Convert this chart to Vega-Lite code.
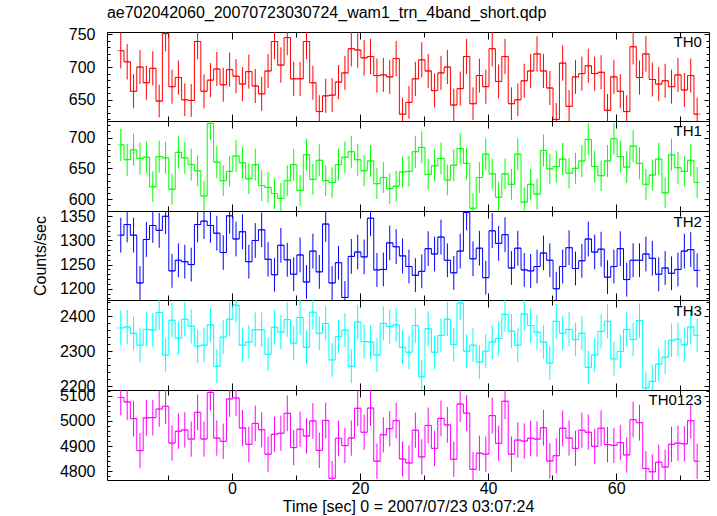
{
"$schema": "https://vega.github.io/schema/vega-lite/v6.json",
"padding": {"left": 31, "top": 4, "right": 5, "bottom": 5},
"title": {"text": "ae702042060_20070723030724_wam1_trn_4band_short.qdp", "anchor": "start", "dx": 75, "fontSize": 16, "fontWeight": "normal", "font": "Liberation Sans", "color": "#000", "offset": 5},
"data": {"values": [
{"t":-17.35,"TH0":725,"e0":27,"TH1":688,"e1":26,"TH2":1311,"e2":36,"TH3":2366,"e3":49,"TH0123":5093,"e4":71},
{"t":-16.35,"TH0":708,"e0":27,"TH1":664,"e1":26,"TH2":1333,"e2":37,"TH3":2369,"e3":49,"TH0123":5075,"e4":71},
{"t":-15.35,"TH0":663,"e0":26,"TH1":680,"e1":26,"TH2":1311,"e2":36,"TH3":2351,"e3":48,"TH0123":5009,"e4":71},
{"t":-14.35,"TH0":700,"e0":26,"TH1":666,"e1":26,"TH2":1212,"e2":35,"TH3":2317,"e3":48,"TH0123":4882,"e4":70},
{"t":-13.35,"TH0":676,"e0":26,"TH1":668,"e1":26,"TH2":1302,"e2":36,"TH3":2362,"e3":49,"TH0123":5012,"e4":71},
{"t":-12.35,"TH0":698,"e0":26,"TH1":620,"e1":25,"TH2":1331,"e2":36,"TH3":2360,"e3":49,"TH0123":5013,"e4":71},
{"t":-11.35,"TH0":648,"e0":25,"TH1":669,"e1":26,"TH2":1321,"e2":36,"TH3":2410,"e3":49,"TH0123":5047,"e4":71},
{"t":-10.35,"TH0":751,"e0":27,"TH1":667,"e1":26,"TH2":1350,"e2":37,"TH3":2289,"e3":48,"TH0123":5058,"e4":71},
{"t":-9.35,"TH0":670,"e0":26,"TH1":616,"e1":25,"TH2":1237,"e2":35,"TH3":2388,"e3":49,"TH0123":4912,"e4":70},
{"t":-8.35,"TH0":684,"e0":26,"TH1":676,"e1":26,"TH2":1259,"e2":35,"TH3":2337,"e3":48,"TH0123":4959,"e4":70},
{"t":-7.35,"TH0":650,"e0":25,"TH1":667,"e1":26,"TH2":1256,"e2":35,"TH3":2391,"e3":49,"TH0123":4964,"e4":70},
{"t":-6.35,"TH0":649,"e0":25,"TH1":656,"e1":26,"TH2":1250,"e2":35,"TH3":2371,"e3":49,"TH0123":4928,"e4":70},
{"t":-5.35,"TH0":739,"e0":27,"TH1":646,"e1":25,"TH2":1333,"e2":37,"TH3":2314,"e3":48,"TH0123":5034,"e4":71},
{"t":-4.35,"TH0":663,"e0":26,"TH1":605,"e1":25,"TH2":1340,"e2":37,"TH3":2317,"e3":48,"TH0123":4928,"e4":70},
{"t":-3.35,"TH0":680,"e0":26,"TH1":723,"e1":27,"TH2":1331,"e2":36,"TH3":2375,"e3":49,"TH0123":5113,"e4":72},
{"t":-2.35,"TH0":697,"e0":26,"TH1":660,"e1":26,"TH2":1315,"e2":36,"TH3":2257,"e3":48,"TH0123":4932,"e4":70},
{"t":-1.35,"TH0":673,"e0":26,"TH1":630,"e1":25,"TH2":1275,"e2":36,"TH3":2340,"e3":48,"TH0123":4919,"e4":70},
{"t":-0.35,"TH0":696,"e0":26,"TH1":645,"e1":25,"TH2":1351,"e2":37,"TH3":2391,"e3":49,"TH0123":5087,"e4":71},
{"t":0.65,"TH0":686,"e0":26,"TH1":670,"e1":26,"TH2":1303,"e2":36,"TH3":2431,"e3":49,"TH0123":5091,"e4":71},
{"t":1.65,"TH0":674,"e0":26,"TH1":659,"e1":26,"TH2":1318,"e2":36,"TH3":2317,"e3":48,"TH0123":4972,"e4":71},
{"t":2.65,"TH0":693,"e0":26,"TH1":633,"e1":25,"TH2":1256,"e2":35,"TH3":2326,"e3":48,"TH0123":4907,"e4":70},
{"t":3.65,"TH0":671,"e0":26,"TH1":656,"e1":26,"TH2":1300,"e2":36,"TH3":2361,"e3":49,"TH0123":4990,"e4":71},
{"t":4.65,"TH0":659,"e0":26,"TH1":622,"e1":25,"TH2":1322,"e2":36,"TH3":2361,"e3":49,"TH0123":4965,"e4":70},
{"t":5.65,"TH0":694,"e0":26,"TH1":619,"e1":25,"TH2":1261,"e2":36,"TH3":2291,"e3":48,"TH0123":4868,"e4":70},
{"t":6.65,"TH0":739,"e0":27,"TH1":609,"e1":25,"TH2":1229,"e2":35,"TH3":2368,"e3":49,"TH0123":4947,"e4":70},
{"t":7.65,"TH0":703,"e0":27,"TH1":601,"e1":25,"TH2":1290,"e2":36,"TH3":2354,"e3":49,"TH0123":4951,"e4":70},
{"t":8.65,"TH0":745,"e0":27,"TH1":630,"e1":25,"TH2":1260,"e2":35,"TH3":2390,"e3":49,"TH0123":5030,"e4":71},
{"t":9.65,"TH0":682,"e0":26,"TH1":656,"e1":26,"TH2":1230,"e2":35,"TH3":2323,"e3":48,"TH0123":4894,"e4":70},
{"t":10.65,"TH0":682,"e0":26,"TH1":614,"e1":25,"TH2":1270,"e2":36,"TH3":2396,"e3":49,"TH0123":4967,"e4":70},
{"t":11.65,"TH0":739,"e0":27,"TH1":672,"e1":26,"TH2":1214,"e2":35,"TH3":2311,"e3":48,"TH0123":4940,"e4":70},
{"t":12.65,"TH0":676,"e0":26,"TH1":632,"e1":25,"TH2":1278,"e2":36,"TH3":2411,"e3":49,"TH0123":5000,"e4":71},
{"t":13.65,"TH0":632,"e0":25,"TH1":663,"e1":26,"TH2":1235,"e2":35,"TH3":2351,"e3":48,"TH0123":4883,"e4":70},
{"t":14.65,"TH0":656,"e0":26,"TH1":630,"e1":25,"TH2":1334,"e2":37,"TH3":2379,"e3":49,"TH0123":5002,"e4":71},
{"t":15.65,"TH0":657,"e0":26,"TH1":627,"e1":25,"TH2":1212,"e2":35,"TH3":2275,"e3":48,"TH0123":4772,"e4":69},
{"t":16.65,"TH0":677,"e0":26,"TH1":656,"e1":26,"TH2":1254,"e2":35,"TH3":2342,"e3":48,"TH0123":4931,"e4":70},
{"t":17.65,"TH0":691,"e0":26,"TH1":668,"e1":26,"TH2":1182,"e2":34,"TH3":2360,"e3":49,"TH0123":4902,"e4":70},
{"t":18.65,"TH0":728,"e0":27,"TH1":677,"e1":26,"TH2":1267,"e2":36,"TH3":2257,"e3":48,"TH0123":4932,"e4":70},
{"t":19.65,"TH0":726,"e0":27,"TH1":664,"e1":26,"TH2":1276,"e2":36,"TH3":2383,"e3":49,"TH0123":5050,"e4":71},
{"t":20.65,"TH0":714,"e0":27,"TH1":646,"e1":25,"TH2":1266,"e2":36,"TH3":2327,"e3":48,"TH0123":4955,"e4":70},
{"t":21.65,"TH0":716,"e0":27,"TH1":662,"e1":26,"TH2":1346,"e2":37,"TH3":2326,"e3":48,"TH0123":5051,"e4":71},
{"t":22.65,"TH0":687,"e0":26,"TH1":625,"e1":25,"TH2":1239,"e2":35,"TH3":2289,"e3":48,"TH0123":4840,"e4":70},
{"t":23.65,"TH0":688,"e0":26,"TH1":635,"e1":25,"TH2":1240,"e2":35,"TH3":2379,"e3":49,"TH0123":4945,"e4":70},
{"t":24.65,"TH0":685,"e0":26,"TH1":617,"e1":25,"TH2":1295,"e2":36,"TH3":2370,"e3":49,"TH0123":4969,"e4":70},
{"t":25.65,"TH0":713,"e0":27,"TH1":621,"e1":25,"TH2":1287,"e2":36,"TH3":2375,"e3":49,"TH0123":5001,"e4":71},
{"t":26.65,"TH0":628,"e0":25,"TH1":644,"e1":25,"TH2":1268,"e2":36,"TH3":2311,"e3":48,"TH0123":4849,"e4":70},
{"t":27.65,"TH0":646,"e0":25,"TH1":645,"e1":25,"TH2":1246,"e2":35,"TH3":2297,"e3":48,"TH0123":4833,"e4":70},
{"t":28.65,"TH0":682,"e0":26,"TH1":677,"e1":26,"TH2":1228,"e2":35,"TH3":2373,"e3":49,"TH0123":4963,"e4":70},
{"t":29.65,"TH0":711,"e0":27,"TH1":684,"e1":26,"TH2":1236,"e2":35,"TH3":2227,"e3":47,"TH0123":4857,"e4":70},
{"t":30.65,"TH0":694,"e0":26,"TH1":640,"e1":25,"TH2":1283,"e2":36,"TH3":2364,"e3":49,"TH0123":4982,"e4":71},
{"t":31.65,"TH0":664,"e0":26,"TH1":654,"e1":26,"TH2":1272,"e2":36,"TH3":2297,"e3":48,"TH0123":4891,"e4":70},
{"t":32.65,"TH0":691,"e0":26,"TH1":666,"e1":26,"TH2":1307,"e2":36,"TH3":2345,"e3":48,"TH0123":5010,"e4":71},
{"t":33.65,"TH0":700,"e0":26,"TH1":631,"e1":25,"TH2":1259,"e2":35,"TH3":2391,"e3":49,"TH0123":4984,"e4":71},
{"t":34.65,"TH0":642,"e0":25,"TH1":655,"e1":26,"TH2":1233,"e2":35,"TH3":2319,"e3":48,"TH0123":4848,"e4":70},
{"t":35.65,"TH0":667,"e0":26,"TH1":682,"e1":26,"TH2":1278,"e2":36,"TH3":2437,"e3":49,"TH0123":5067,"e4":71},
{"t":36.65,"TH0":716,"e0":27,"TH1":658,"e1":26,"TH2":1358,"e2":37,"TH3":2300,"e3":48,"TH0123":5031,"e4":71},
{"t":37.65,"TH0":644,"e0":25,"TH1":585,"e1":24,"TH2":1262,"e2":36,"TH3":2317,"e3":48,"TH0123":4808,"e4":69},
{"t":38.65,"TH0":687,"e0":26,"TH1":635,"e1":25,"TH2":1284,"e2":36,"TH3":2269,"e3":48,"TH0123":4872,"e4":70},
{"t":39.65,"TH0":670,"e0":26,"TH1":673,"e1":26,"TH2":1223,"e2":35,"TH3":2300,"e3":48,"TH0123":4868,"e4":70},
{"t":40.65,"TH0":728,"e0":27,"TH1":641,"e1":25,"TH2":1320,"e2":36,"TH3":2326,"e3":48,"TH0123":5021,"e4":71},
{"t":41.65,"TH0":678,"e0":26,"TH1":603,"e1":25,"TH2":1294,"e2":36,"TH3":2336,"e3":48,"TH0123":4911,"e4":70},
{"t":42.65,"TH0":716,"e0":27,"TH1":641,"e1":25,"TH2":1312,"e2":36,"TH3":2405,"e3":49,"TH0123":5078,"e4":71},
{"t":43.65,"TH0":644,"e0":25,"TH1":624,"e1":25,"TH2":1243,"e2":35,"TH3":2357,"e3":49,"TH0123":4868,"e4":70},
{"t":44.65,"TH0":650,"e0":25,"TH1":673,"e1":26,"TH2":1284,"e2":36,"TH3":2317,"e3":48,"TH0123":4924,"e4":70},
{"t":45.65,"TH0":679,"e0":26,"TH1":595,"e1":24,"TH2":1239,"e2":35,"TH3":2406,"e3":49,"TH0123":4920,"e4":70},
{"t":46.65,"TH0":694,"e0":26,"TH1":624,"e1":25,"TH2":1237,"e2":35,"TH3":2373,"e3":49,"TH0123":4931,"e4":70},
{"t":47.65,"TH0":720,"e0":27,"TH1":608,"e1":25,"TH2":1246,"e2":35,"TH3":2354,"e3":49,"TH0123":4928,"e4":70},
{"t":48.65,"TH0":694,"e0":26,"TH1":679,"e1":26,"TH2":1274,"e2":36,"TH3":2326,"e3":48,"TH0123":4973,"e4":71},
{"t":49.65,"TH0":668,"e0":26,"TH1":649,"e1":25,"TH2":1259,"e2":35,"TH3":2266,"e3":48,"TH0123":4841,"e4":70},
{"t":50.65,"TH0":620,"e0":25,"TH1":653,"e1":26,"TH2":1200,"e2":35,"TH3":2385,"e3":49,"TH0123":4862,"e4":70},
{"t":51.65,"TH0":706,"e0":27,"TH1":665,"e1":26,"TH2":1246,"e2":35,"TH3":2351,"e3":48,"TH0123":4971,"e4":71},
{"t":52.65,"TH0":640,"e0":25,"TH1":642,"e1":25,"TH2":1285,"e2":36,"TH3":2362,"e3":49,"TH0123":4932,"e4":70},
{"t":53.65,"TH0":685,"e0":26,"TH1":650,"e1":25,"TH2":1242,"e2":35,"TH3":2333,"e3":48,"TH0123":4891,"e4":70},
{"t":54.65,"TH0":690,"e0":26,"TH1":662,"e1":26,"TH2":1258,"e2":35,"TH3":2351,"e3":48,"TH0123":4963,"e4":70},
{"t":55.65,"TH0":702,"e0":26,"TH1":697,"e1":26,"TH2":1303,"e2":36,"TH3":2254,"e3":47,"TH0123":4955,"e4":70},
{"t":56.65,"TH0":690,"e0":26,"TH1":653,"e1":26,"TH2":1276,"e2":36,"TH3":2289,"e3":48,"TH0123":4899,"e4":70},
{"t":57.65,"TH0":692,"e0":26,"TH1":638,"e1":25,"TH2":1282,"e2":36,"TH3":2356,"e3":49,"TH0123":4971,"e4":71},
{"t":58.65,"TH0":634,"e0":25,"TH1":662,"e1":26,"TH2":1224,"e2":35,"TH3":2385,"e3":49,"TH0123":4906,"e4":70},
{"t":59.65,"TH0":685,"e0":26,"TH1":698,"e1":26,"TH2":1246,"e2":35,"TH3":2278,"e3":48,"TH0123":4903,"e4":70},
{"t":60.65,"TH0":663,"e0":26,"TH1":669,"e1":26,"TH2":1283,"e2":36,"TH3":2299,"e3":48,"TH0123":4914,"e4":70},
{"t":61.65,"TH0":632,"e0":25,"TH1":652,"e1":26,"TH2":1219,"e2":35,"TH3":2362,"e3":49,"TH0123":4865,"e4":70},
{"t":62.65,"TH0":731,"e0":27,"TH1":686,"e1":26,"TH2":1259,"e2":35,"TH3":2333,"e3":48,"TH0123":5005,"e4":71},
{"t":63.65,"TH0":684,"e0":26,"TH1":658,"e1":26,"TH2":1259,"e2":35,"TH3":2387,"e3":49,"TH0123":4993,"e4":71},
{"t":64.65,"TH0":720,"e0":27,"TH1":624,"e1":25,"TH2":1272,"e2":36,"TH3":2195,"e3":47,"TH0123":4811,"e4":69},
{"t":65.65,"TH0":681,"e0":26,"TH1":639,"e1":25,"TH2":1263,"e2":36,"TH3":2214,"e3":47,"TH0123":4798,"e4":69},
{"t":66.65,"TH0":674,"e0":26,"TH1":665,"e1":26,"TH2":1230,"e2":35,"TH3":2263,"e3":48,"TH0123":4836,"e4":70},
{"t":67.65,"TH0":679,"e0":26,"TH1":610,"e1":25,"TH2":1243,"e2":35,"TH3":2283,"e3":48,"TH0123":4817,"e4":69},
{"t":68.65,"TH0":670,"e0":26,"TH1":672,"e1":26,"TH2":1232,"e2":35,"TH3":2331,"e3":48,"TH0123":4907,"e4":70},
{"t":69.65,"TH0":688,"e0":26,"TH1":651,"e1":26,"TH2":1240,"e2":35,"TH3":2334,"e3":48,"TH0123":4912,"e4":70},
{"t":70.65,"TH0":665,"e0":26,"TH1":645,"e1":25,"TH2":1278,"e2":36,"TH3":2318,"e3":48,"TH0123":4909,"e4":70},
{"t":71.65,"TH0":687,"e0":26,"TH1":663,"e1":26,"TH2":1281,"e2":36,"TH3":2369,"e3":49,"TH0123":5001,"e4":71},
{"t":72.65,"TH0":628,"e0":25,"TH1":627,"e1":25,"TH2":1238,"e2":35,"TH3":2345,"e3":48,"TH0123":4840,"e4":70}
]},
"spacing": 0,
"bounds": "flush",
"vconcat": [
{
 "width": 602, "height": 89,
 "layer": [
  {"mark": {"type": "errorbar", "color": "#ff0000", "thickness": 1},
   "encoding": {
    "x": {"field": "t", "type": "quantitative", "scale": {"domain": [-19.5, 74.5], "nice": false, "zero": false}, "axis": {"orient": "bottom", "values": [0, 20, 40, 60], "tickSize": -7, "labels": false, "title": null}},
    "y": {"field": "TH0", "type": "quantitative", "scale": {"domain": [617.6, 753.5], "nice": false, "zero": false, "clamp": true}, "axis": {"orient": "left", "values": [650, 700, 750], "tickSize": -5, "labelPadding": 17, "format": "d", "title": null}},
    "yError": {"field": "e0"}
   }},
  {"mark": {"type": "line", "interpolate": "step", "color": "#ff0000", "strokeWidth": 1},
   "encoding": {
    "x": {"field": "t", "type": "quantitative", "axis": {"orient": "top", "values": [0, 20, 40, 60], "tickSize": -7, "labels": false, "title": null}},
    "y": {"field": "TH0", "type": "quantitative", "axis": {"orient": "right", "values": [650, 700, 750], "tickSize": -5, "labels": false, "title": null}}
   }},
  {"mark": {"type": "tick", "orient": "horizontal", "size": 6.4, "thickness": 1, "color": "#ff0000"},
   "encoding": {
    "x": {"field": "t", "type": "quantitative", "axis": {"orient": "bottom", "values": [-10, 10, 30, 50, 70], "tickSize": -5, "labels": false, "title": null}},
    "y": {"field": "TH0", "type": "quantitative", "axis": {"orient": "left", "values": [620, 630, 640, 660, 670, 680, 690, 710, 720, 730, 740], "tickSize": -3, "labels": false, "title": null}}
   }},
  {"data": {"values": [{"label": "TH0"}]},
   "mark": {"type": "text", "align": "right", "baseline": "middle", "fontSize": 15, "font": "Liberation Sans", "color": "#000"},
   "encoding": {
    "x": {"datum": 73.4, "type": "quantitative", "axis": {"orient": "top", "values": [-10, 10, 30, 50, 70], "tickSize": -5, "labels": false, "title": null}},
    "y": {"datum": 737.5, "type": "quantitative", "axis": {"orient": "right", "values": [620, 630, 640, 660, 670, 680, 690, 710, 720, 730, 740], "tickSize": -3, "labels": false, "title": null}},
    "text": {"field": "label"}
   }}
 ],
 "resolve": {"axis": {"x": "independent", "y": "independent"}}
},
{
 "width": 602, "height": 90,
 "layer": [
  {"mark": {"type": "errorbar", "color": "#00ff00", "thickness": 1},
   "encoding": {
    "x": {"field": "t", "type": "quantitative", "scale": {"domain": [-19.5, 74.5], "nice": false, "zero": false}, "axis": {"orient": "bottom", "values": [0, 20, 40, 60], "tickSize": -7, "labels": false, "title": null}},
    "y": {"field": "TH1", "type": "quantitative", "scale": {"domain": [580.6, 726.9], "nice": false, "zero": false, "clamp": true}, "axis": {"orient": "left", "values": [600, 650, 700], "tickSize": -5, "labelPadding": 17, "format": "d", "title": null}},
    "yError": {"field": "e1"}
   }},
  {"mark": {"type": "line", "interpolate": "step", "color": "#00ff00", "strokeWidth": 1},
   "encoding": {
    "x": {"field": "t", "type": "quantitative", "axis": {"orient": "top", "values": [0, 20, 40, 60], "tickSize": -7, "labels": false, "title": null}},
    "y": {"field": "TH1", "type": "quantitative", "axis": {"orient": "right", "values": [600, 650, 700], "tickSize": -5, "labels": false, "title": null}}
   }},
  {"mark": {"type": "tick", "orient": "horizontal", "size": 6.4, "thickness": 1, "color": "#00ff00"},
   "encoding": {
    "x": {"field": "t", "type": "quantitative", "axis": {"orient": "bottom", "values": [-10, 10, 30, 50, 70], "tickSize": -5, "labels": false, "title": null}},
    "y": {"field": "TH1", "type": "quantitative", "axis": {"orient": "left", "values": [590, 610, 620, 630, 640, 660, 670, 680, 690, 710, 720], "tickSize": -3, "labels": false, "title": null}}
   }},
  {"data": {"values": [{"label": "TH1"}]},
   "mark": {"type": "text", "align": "right", "baseline": "middle", "fontSize": 15, "font": "Liberation Sans", "color": "#000"},
   "encoding": {
    "x": {"datum": 73.4, "type": "quantitative", "axis": {"orient": "top", "values": [-10, 10, 30, 50, 70], "tickSize": -5, "labels": false, "title": null}},
    "y": {"datum": 710, "type": "quantitative", "axis": {"orient": "right", "values": [590, 610, 620, 630, 640, 660, 670, 680, 690, 710, 720], "tickSize": -3, "labels": false, "title": null}},
    "text": {"field": "label"}
   }}
 ],
 "resolve": {"axis": {"x": "independent", "y": "independent"}}
},
{
 "width": 602, "height": 89,
 "layer": [
  {"mark": {"type": "errorbar", "color": "#0000ff", "thickness": 1},
   "encoding": {
    "x": {"field": "t", "type": "quantitative", "scale": {"domain": [-19.5, 74.5], "nice": false, "zero": false}, "axis": {"orient": "bottom", "values": [0, 20, 40, 60], "tickSize": -7, "labels": false, "title": null}},
    "y": {"field": "TH2", "type": "quantitative", "scale": {"domain": [1176.7, 1361], "nice": false, "zero": false, "clamp": true}, "axis": {"orient": "left", "values": [1200, 1250, 1300, 1350], "tickSize": -5, "labelPadding": 17, "format": "d", "title": "Counts/sec", "titlePadding": 11}},
    "yError": {"field": "e2"}
   }},
  {"mark": {"type": "line", "interpolate": "step", "color": "#0000ff", "strokeWidth": 1},
   "encoding": {
    "x": {"field": "t", "type": "quantitative", "axis": {"orient": "top", "values": [0, 20, 40, 60], "tickSize": -7, "labels": false, "title": null}},
    "y": {"field": "TH2", "type": "quantitative", "axis": {"orient": "right", "values": [1200, 1250, 1300, 1350], "tickSize": -5, "labels": false, "title": null}}
   }},
  {"mark": {"type": "tick", "orient": "horizontal", "size": 6.4, "thickness": 1, "color": "#0000ff"},
   "encoding": {
    "x": {"field": "t", "type": "quantitative", "axis": {"orient": "bottom", "values": [-10, 10, 30, 50, 70], "tickSize": -5, "labels": false, "title": null}},
    "y": {"field": "TH2", "type": "quantitative", "axis": {"orient": "left", "values": [1180, 1190, 1210, 1220, 1230, 1240, 1260, 1270, 1280, 1290, 1310, 1320, 1330, 1340, 1360], "tickSize": -3, "labels": false, "title": null}}
   }},
  {"data": {"values": [{"label": "TH2"}]},
   "mark": {"type": "text", "align": "right", "baseline": "middle", "fontSize": 15, "font": "Liberation Sans", "color": "#000"},
   "encoding": {
    "x": {"datum": 73.4, "type": "quantitative", "axis": {"orient": "top", "values": [-10, 10, 30, 50, 70], "tickSize": -5, "labels": false, "title": null}},
    "y": {"datum": 1338, "type": "quantitative", "axis": {"orient": "right", "values": [1180, 1190, 1210, 1220, 1230, 1240, 1260, 1270, 1280, 1290, 1310, 1320, 1330, 1340, 1360], "tickSize": -3, "labels": false, "title": null}},
    "text": {"field": "label"}
   }}
 ],
 "resolve": {"axis": {"x": "independent", "y": "independent"}}
},
{
 "width": 602, "height": 90,
 "layer": [
  {"mark": {"type": "errorbar", "color": "#00ffff", "thickness": 1},
   "encoding": {
    "x": {"field": "t", "type": "quantitative", "scale": {"domain": [-19.5, 74.5], "nice": false, "zero": false}, "axis": {"orient": "bottom", "values": [0, 20, 40, 60], "tickSize": -7, "labels": false, "title": null}},
    "y": {"field": "TH3", "type": "quantitative", "scale": {"domain": [2189.4, 2445.7], "nice": false, "zero": false, "clamp": true}, "axis": {"orient": "left", "values": [2200, 2300, 2400], "tickSize": -5, "labelPadding": 17, "format": "d", "title": null}},
    "yError": {"field": "e3"}
   }},
  {"mark": {"type": "line", "interpolate": "step", "color": "#00ffff", "strokeWidth": 1},
   "encoding": {
    "x": {"field": "t", "type": "quantitative", "axis": {"orient": "top", "values": [0, 20, 40, 60], "tickSize": -7, "labels": false, "title": null}},
    "y": {"field": "TH3", "type": "quantitative", "axis": {"orient": "right", "values": [2200, 2300, 2400], "tickSize": -5, "labels": false, "title": null}}
   }},
  {"mark": {"type": "tick", "orient": "horizontal", "size": 6.4, "thickness": 1, "color": "#00ffff"},
   "encoding": {
    "x": {"field": "t", "type": "quantitative", "axis": {"orient": "bottom", "values": [-10, 10, 30, 50, 70], "tickSize": -5, "labels": false, "title": null}},
    "y": {"field": "TH3", "type": "quantitative", "axis": {"orient": "left", "values": [2220, 2240, 2260, 2280, 2320, 2340, 2360, 2380, 2420, 2440], "tickSize": -3, "labels": false, "title": null}}
   }},
  {"data": {"values": [{"label": "TH3"}]},
   "mark": {"type": "text", "align": "right", "baseline": "middle", "fontSize": 15, "font": "Liberation Sans", "color": "#000"},
   "encoding": {
    "x": {"datum": 73.4, "type": "quantitative", "axis": {"orient": "top", "values": [-10, 10, 30, 50, 70], "tickSize": -5, "labels": false, "title": null}},
    "y": {"datum": 2413, "type": "quantitative", "axis": {"orient": "right", "values": [2220, 2240, 2260, 2280, 2320, 2340, 2360, 2380, 2420, 2440], "tickSize": -3, "labels": false, "title": null}},
    "text": {"field": "label"}
   }}
 ],
 "resolve": {"axis": {"x": "independent", "y": "independent"}}
},
{
 "width": 602, "height": 90,
 "layer": [
  {"mark": {"type": "errorbar", "color": "#ff00ff", "thickness": 1},
   "encoding": {
    "x": {"field": "t", "type": "quantitative", "scale": {"domain": [-19.5, 74.5], "nice": false, "zero": false}, "axis": {"orient": "bottom", "values": [0, 20, 40, 60], "tickSize": -7, "labelPadding": 7, "format": "d", "title": "Time [sec] 0 = 2007/07/23 03:07:24", "titlePadding": 2}},
    "y": {"field": "TH0123", "type": "quantitative", "scale": {"domain": [4765.5, 5122.6], "nice": false, "zero": false, "clamp": true}, "axis": {"orient": "left", "values": [4800, 4900, 5000, 5100], "tickSize": -5, "labelPadding": 17, "format": "d", "title": null}},
    "yError": {"field": "e4"}
   }},
  {"mark": {"type": "line", "interpolate": "step", "color": "#ff00ff", "strokeWidth": 1},
   "encoding": {
    "x": {"field": "t", "type": "quantitative", "axis": {"orient": "top", "values": [0, 20, 40, 60], "tickSize": -7, "labels": false, "title": null}},
    "y": {"field": "TH0123", "type": "quantitative", "axis": {"orient": "right", "values": [4800, 4900, 5000, 5100], "tickSize": -5, "labels": false, "title": null}}
   }},
  {"mark": {"type": "tick", "orient": "horizontal", "size": 6.4, "thickness": 1, "color": "#ff00ff"},
   "encoding": {
    "x": {"field": "t", "type": "quantitative", "axis": {"orient": "bottom", "values": [-10, 10, 30, 50, 70], "tickSize": -5, "labels": false, "title": null}},
    "y": {"field": "TH0123", "type": "quantitative", "axis": {"orient": "left", "values": [4780, 4820, 4840, 4860, 4880, 4920, 4940, 4960, 4980, 5020, 5040, 5060, 5080, 5120], "tickSize": -3, "labels": false, "title": null}}
   }},
  {"data": {"values": [{"label": "TH0123"}]},
   "mark": {"type": "text", "align": "right", "baseline": "middle", "fontSize": 15, "font": "Liberation Sans", "color": "#000"},
   "encoding": {
    "x": {"datum": 73.4, "type": "quantitative", "axis": {"orient": "top", "values": [-10, 10, 30, 50, 70], "tickSize": -5, "labels": false, "title": null}},
    "y": {"datum": 5083, "type": "quantitative", "axis": {"orient": "right", "values": [4780, 4820, 4840, 4860, 4880, 4920, 4940, 4960, 4980, 5020, 5040, 5060, 5080, 5120], "tickSize": -3, "labels": false, "title": null}},
    "text": {"field": "label"}
   }}
 ],
 "resolve": {"axis": {"x": "independent", "y": "independent"}}
}
],
"config": {
 "view": {"stroke": "#000", "strokeWidth": 1},
 "concat": {"spacing": 0},
 "axis": {"domain": false, "grid": false, "tickColor": "#000", "tickWidth": 1, "labelFont": "Liberation Sans", "labelFontSize": 16, "labelColor": "#000", "titleFont": "Liberation Sans", "titleFontSize": 16, "titleFontWeight": "normal", "titleColor": "#000"}
}
}
